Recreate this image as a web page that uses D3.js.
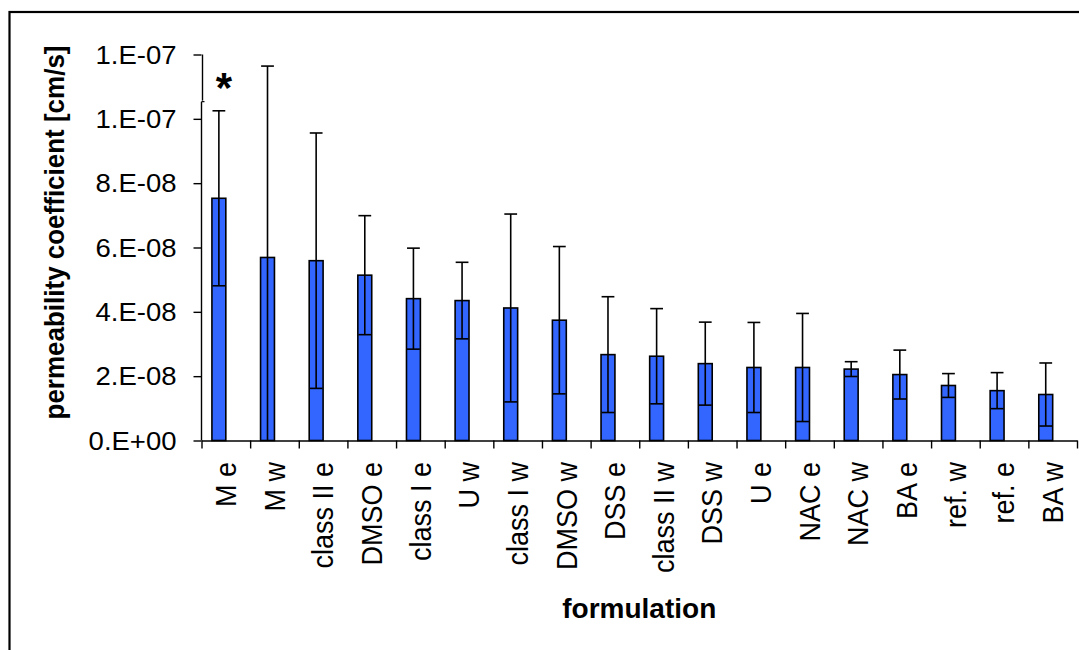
<!DOCTYPE html>
<html>
<head>
<meta charset="utf-8">
<script src="https://cdn.jsdelivr.net/npm/d3@7"></script>
<style>
  html, body { margin: 0; padding: 0; background: #ffffff; }
  svg { display: block; font-family: Arial, "Liberation Sans", sans-serif; }
</style>
</head>
<body>
<svg id="chart" width="1079" height="650"></svg>
<script>
// Formulations, ordered by mean permeability coefficient
const categories = ["M e", "M w", "class II e", "DMSO e", "class I e", "U w", "class I w", "DMSO w",
  "DSS e", "class II w", "DSS w", "U e", "NAC e", "NAC w", "BA e", "ref. w", "ref. e", "BA w"];

// Mean permeability coefficient [cm/s]
const means = [7.53e-8, 5.69e-8, 5.59e-8, 5.14e-8, 4.41e-8, 4.35e-8, 4.12e-8, 3.74e-8,
  2.67e-8, 2.62e-8, 2.39e-8, 2.27e-8, 2.27e-8, 2.22e-8, 2.05e-8, 1.71e-8, 1.55e-8, 1.43e-8];

// Standard deviation [cm/s]
const sds = [2.72e-8, 5.95e-8, 3.97e-8, 1.85e-8, 1.57e-8, 1.19e-8, 2.92e-8, 2.29e-8,
  1.80e-8, 1.48e-8, 1.29e-8, 1.40e-8, 1.68e-8, 0.23e-8, 0.76e-8, 0.37e-8, 0.56e-8, 0.98e-8];

// Value axis ticks and their labels (Excel style "0.E+00")
const yTickValues = [0, 2e-8, 4e-8, 6e-8, 8e-8, 1e-7, 1.2e-7];
const yTickLabels = ["0.E+00", "2.E-08", "4.E-08", "6.E-08", "8.E-08", "1.E-07", "1.E-07"];

// Significantly different formulation(s)
const significant = ["M e"];

// Value at which the value axis line is broken
const axisBreak = 1.055e-7;

const svg = d3.select("#chart");

// outer chart frame
svg.append("rect")
  .attr("x", 9.5).attr("y", 12).attr("width", 1200).attr("height", 800)
  .attr("fill", "none").attr("stroke", "#000").attr("stroke-width", 2.2);

const plot = { left: 201.5, right: 1077, top: 54.5, bottom: 440.5 };

const x = d3.scaleBand().domain(categories).range([plot.left, plot.right]).padding(0);
// two bar slots per category with a 150% gap; only the first one is used
const slot = d3.scaleBand().domain(["value", "empty"]).range([0, x.bandwidth()])
  .paddingInner(0).paddingOuter(0.75);
const y = d3.scaleLinear().domain([0, 1.2e-7]).range([plot.bottom, plot.top]);

const rows = categories.map((c, i) => ({ c, m: means[i], sd: sds[i] }));
const barCx = d => x(d.c) + slot("value") + slot.bandwidth() / 2;

// bars
svg.append("g").selectAll("rect").data(rows).join("rect")
  .attr("x", d => x(d.c) + slot("value"))
  .attr("y", d => y(d.m))
  .attr("width", slot.bandwidth())
  .attr("height", d => y(0) - y(d.m))
  .attr("fill", "#3366ff")
  .attr("stroke", "#000")
  .attr("stroke-width", 1.6);

// error bars (mean ± sd, clipped at zero)
const capW = slot.bandwidth() * 0.92;
const eb = svg.append("g").attr("stroke", "#000").attr("stroke-width", 1.6);
rows.forEach(d => {
  const lo = Math.max(0, d.m - d.sd), hi = d.m + d.sd, cx = barCx(d);
  eb.append("line").attr("x1", cx).attr("x2", cx).attr("y1", y(lo)).attr("y2", y(hi));
  eb.append("line").attr("x1", cx - capW / 2).attr("x2", cx + capW / 2).attr("y1", y(hi)).attr("y2", y(hi));
  if (d.m - d.sd > 0) {
    eb.append("line").attr("x1", cx - capW / 2).attr("x2", cx + capW / 2).attr("y1", y(lo)).attr("y2", y(lo));
  }
});

// significance marker
svg.append("g").selectAll("text").data(rows.filter(d => significant.includes(d.c))).join("text")
  .attr("x", d => barCx(d) + 5)
  .attr("y", d => y(d.m + d.sd) - 9)
  .attr("text-anchor", "middle")
  .attr("font-weight", "bold")
  .attr("font-size", 42)
  .text("*");

// value axis: ticks
const yAxis = svg.append("g").attr("transform", `translate(${plot.left},0)`)
  .call(d3.axisLeft(y).tickValues(yTickValues).tickFormat("").tickSize(8));
yAxis.select(".domain").remove();
yAxis.selectAll(".tick line").attr("stroke", "#000").attr("stroke-width", 1.4);
// value axis: labels (slightly wide lettering)
svg.append("g").selectAll("text").data(yTickValues).join("text")
  .attr("transform", d => `translate(${plot.left - 25},${y(d)}) scale(1.1,1)`)
  .attr("text-anchor", "end")
  .attr("dy", "0.36em")
  .attr("font-size", 25)
  .text((d, i) => yTickLabels[i]);
// broken axis line: lower and upper segment
yAxis.append("line").attr("x1", 0).attr("x2", 0).attr("y1", y(0)).attr("y2", y(axisBreak) + 0.5)
  .attr("stroke", "#000").attr("stroke-width", 1.4);
yAxis.append("line").attr("x1", 0).attr("x2", 3).attr("y1", y(axisBreak) + 0.5).attr("y2", y(axisBreak) + 0.5)
  .attr("stroke", "#000").attr("stroke-width", 1.2);
yAxis.append("line").attr("x1", 1).attr("x2", 1).attr("y1", y(axisBreak) - 0.5).attr("y2", y(1.2e-7))
  .attr("stroke", "#000").attr("stroke-width", 1.4);

// category axis: line with ticks between categories
const bounds = d3.scaleLinear().domain([0, categories.length]).range([plot.left, plot.right]);
const xAxis = svg.append("g").attr("transform", `translate(0,${plot.bottom})`)
  .call(d3.axisBottom(bounds).ticks(categories.length).tickSize(8).tickSizeOuter(0).tickFormat(""));
xAxis.select(".domain").attr("stroke", "#000").attr("stroke-width", 1.6);
xAxis.selectAll(".tick line").attr("stroke", "#000").attr("stroke-width", 1.4);

// category labels, rotated
svg.append("g").selectAll("text").data(categories).join("text")
  .attr("transform", c => `translate(${x(c) + x.bandwidth() / 2},462) rotate(-90) scale(1,1.08)`)
  .attr("text-anchor", "end")
  .attr("dy", "0.35em")
  .attr("font-size", 27)
  .text(c => c);

// axis titles
svg.append("text")
  .attr("x", (plot.left + plot.right) / 2).attr("y", 618)
  .attr("text-anchor", "middle").attr("font-weight", "bold").attr("font-size", 28)
  .text("formulation");
svg.append("text")
  .attr("transform", `translate(64,${(plot.top + plot.bottom) / 2 - 15}) rotate(-90) scale(1,1.05)`)
  .attr("text-anchor", "middle").attr("font-weight", "bold").attr("font-size", 26)
  .text("permeability coefficient [cm/s]");
</script>
</body>
</html>
